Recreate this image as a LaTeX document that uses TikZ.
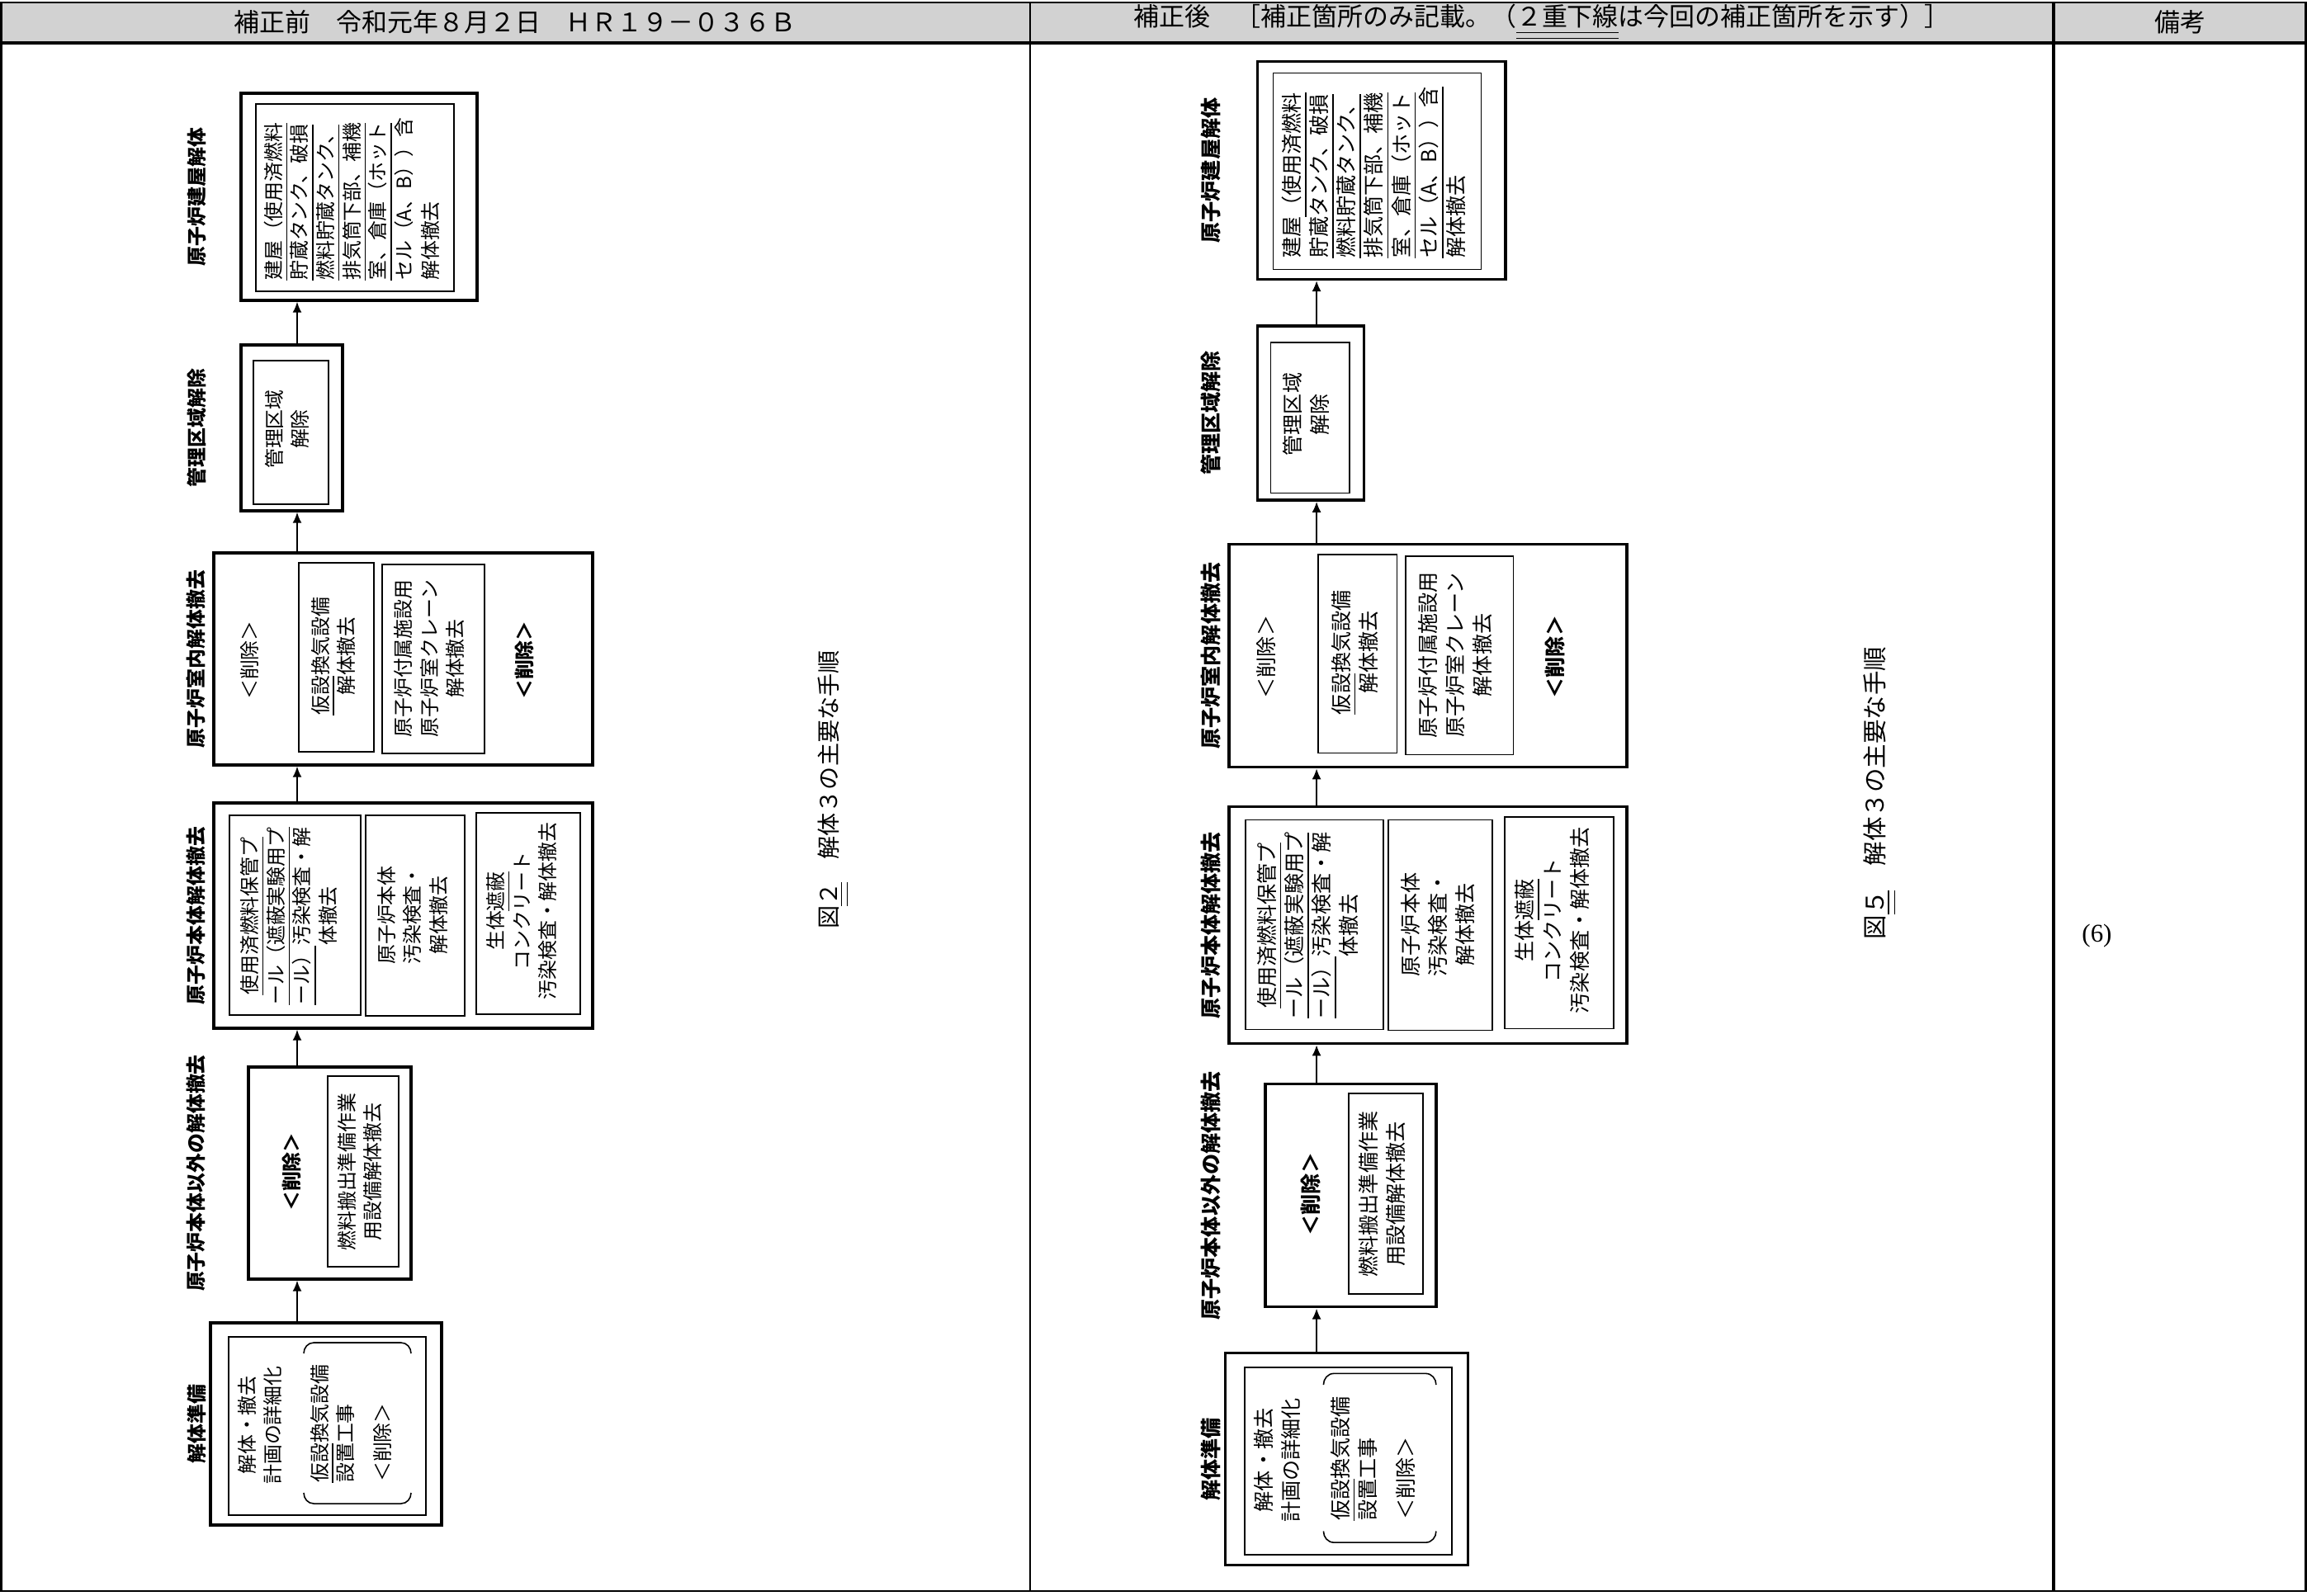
\documentclass[tikz,border=0pt]{standalone}
\usepackage{fontspec}
\setmainfont{Noto Sans CJK JP}
\newfontfamily\romanfont{Liberation Serif}
\usetikzlibrary{arrows.meta}

\newcommand{\dul}[1]{\underline{\underline{#1}}}% double underline

\tikzset{
  outerbox/.style={draw, line width=0.95pt, inner sep=0pt},
  innerbox/.style={draw, line width=0.45pt, inner sep=0pt},
  bracket/.style={line width=0.45pt},
  stage/.style={rotate=90, inner sep=0pt, font=\fontsize{6.8}{9}\selectfont\bfseries},
  boxtext/.style={rotate=90, inner sep=0pt, align=center, font=\fontsize{6.8}{9}\selectfont},
  boldtext/.style={boxtext, font=\fontsize{6.8}{9}\selectfont\bfseries},
  flow/.style={line width=0.55pt, -{Latex[length=1.3mm,width=1.1mm]}},
  tablerule/.style={line width=0.6pt},
  headtext/.style={font=\fontsize{8.8}{10}\selectfont},
}

% #1 name prefix, #2 figure number, #3 text of the reactor building box
\newcommand{\flowchart}[3]{%
  \coordinate (#1-fx) at (3.60,0);% the arrows run on this line
  \coordinate (#1-lx) at (2.38,0);% the stage titles sit on this line
  % dismantling preparation
  \node[outerbox, minimum width=2.80cm, minimum height=2.45cm] (#1-prep) at (3.95,-17.255) {};
  \node[innerbox, minimum width=2.39cm, minimum height=2.16cm] (#1-prepin) at (3.965,-17.28) {};
  \node[boxtext] (#1-prepa) at (3.15,-17.27) {解体・撤去\\計画の詳細化};
  \node[boxtext, align=left] (#1-prepb) at (4.03,-17.25) {\underline{仮設}換気設備\\設置工事};
  \node[boxtext] (#1-prepc) at (4.63,-17.48) {＜削除＞};
  \draw[bracket] (3.68,-16.40) to[out=90,in=180] (3.80,-16.27) -- (4.86,-16.27) to[out=0,in=90] (4.98,-16.40);
  \draw[bracket] (3.68,-18.09) to[out=-90,in=180] (3.80,-18.22) -- (4.86,-18.22) to[out=0,in=-90] (4.98,-18.09);
  \node[stage] (#1-tprep) at (#1-prep -| #1-lx) {解体準備};
  % everything but the reactor body
  \node[outerbox, minimum width=1.97cm, minimum height=2.57cm] (#1-other) at (3.995,-14.215) {};
  \node[innerbox, minimum width=0.86cm, minimum height=2.31cm] (#1-otherin) at (4.40,-14.195) {};
  \node[boldtext] (#1-otherdel) at (3.53,-14.20) {＜削除＞};
  \node[boxtext] (#1-othertxt) at (4.36,-14.20) {燃料搬出準備作業\\用設備解体撤去};
  \node[stage] (#1-tother) at (#1-other -| #1-lx) {原子炉本体以外の解体撤去};
  % reactor body
  \node[outerbox, minimum width=4.59cm, minimum height=2.73cm] (#1-body) at (4.885,-11.095) {};
  \node[innerbox, minimum width=1.59cm, minimum height=2.42cm] (#1-bodyc) at (3.575,-11.09) {};
  \node[innerbox, minimum width=1.20cm, minimum height=2.43cm] (#1-bodyd) at (5.03,-11.095) {};
  \node[innerbox, minimum width=1.26cm, minimum height=2.44cm] (#1-bodye) at (6.40,-11.07) {};
  \node[boxtext] (#1-bodyctxt) at (3.50,-11.10) {\underline{使用済燃料保管プ}\\\underline{ール（遮蔽実験用プ}\\\underline{ール）}汚染検査・解\\体撤去};
  \node[boxtext] (#1-bodydtxt) at (5.00,-11.09) {原子炉本体\\汚染検査・\\解体撤去};
  \node[boxtext] (#1-bodyetxt) at (6.32,-11.04) {生体\underline{遮蔽}\\コンクリート\\汚染検査・解体撤去};
  \node[stage] (#1-tbody) at (#1-body -| #1-lx) {原子炉本体解体撤去};
  % reactor room
  \node[outerbox, minimum width=4.59cm, minimum height=2.57cm] (#1-room) at (4.885,-7.985) {};
  \node[innerbox, minimum width=0.91cm, minimum height=2.29cm] (#1-rooma) at (4.075,-7.965) {};
  \node[innerbox, minimum width=1.24cm, minimum height=2.29cm] (#1-roomb) at (5.25,-7.985) {};
  \node[boxtext] (#1-roomdel) at (3.02,-8.00) {＜削除＞};
  \node[boxtext] (#1-roomatxt) at (4.04,-7.95) {\underline{仮設}換気設備\\解体撤去};
  \node[boxtext] (#1-roombtxt) at (5.20,-7.98) {原子炉付属施設用\\原子炉室クレーン\\解体撤去};
  \node[boldtext] (#1-roomdelb) at (6.35,-8.00) {＜削除＞};
  \node[stage] (#1-troom) at (#1-room -| #1-lx) {原子炉室内解体撤去};
  % controlled area
  \node[outerbox, minimum width=1.23cm, minimum height=2.01cm] (#1-ctrl) at (3.535,-5.185) {};
  \node[innerbox, minimum width=0.91cm, minimum height=1.74cm] (#1-ctrlin) at (3.525,-5.24) {};
  \node[boxtext] (#1-ctrltxt) at (3.48,-5.20) {管理区域\\解除};
  \node[stage] (#1-tctrl) at (#1-ctrl -| #1-lx) {管理区域解除};
  % reactor building
  \node[outerbox, minimum width=2.86cm, minimum height=2.51cm] (#1-bldg) at (4.35,-2.385) {};
  \node[innerbox, minimum width=2.40cm, minimum height=2.27cm] (#1-bldgin) at (4.30,-2.395) {};
  \node[boxtext, align=left] (#1-bldgtxt) at (4.26,-2.41) {#3};
  \node[stage] (#1-tbldg) at (#1-bldg -| #1-lx) {原子炉建屋解体};
  % steps
  \draw[flow] (#1-prep.north -| #1-fx) -- (#1-other.south -| #1-fx);
  \draw[flow] (#1-other.north -| #1-fx) -- (#1-body.south -| #1-fx);
  \draw[flow] (#1-body.north -| #1-fx) -- (#1-room.south -| #1-fx);
  \draw[flow] (#1-room.north -| #1-fx) -- (#1-ctrl.south -| #1-fx);
  \draw[flow] (#1-ctrl.north -| #1-fx) -- (#1-bldg.south -| #1-fx);
  \node[boxtext, font=\fontsize{8}{9}\selectfont] (#1-cap) at (10.10,-9.57) {図\dul{#2}　解体３の主要な手順};
}

\begin{document}
\begin{tikzpicture}
\useasboundingbox (0,0) rectangle (27.95,-19.33);
% table
\fill[gray!35] (0,-0.03) rectangle (27.95,-0.51);
\draw[tablerule] (0.015,-0.03) rectangle (27.935,-19.28);
\draw[line width=1.3pt] (0,-0.52) -- (27.95,-0.52);
\draw[tablerule] (12.48,-0.03) -- (12.48,-19.28);
\draw[line width=1.3pt] (24.88,-0.03) -- (24.88,-19.28);
\node[headtext] (hbefore) at (6.24,-0.27) {補正前　令和元年８月２日　ＨＲ１９－０３６Ｂ};
\node[headtext] (hafter) at (18.68,-0.27) {補正後　［補正箇所のみ記載。（\dul{２重下線}は今回の補正箇所を示す）］};
\node[headtext] (hnote) at (26.41,-0.27) {備考};
\node[anchor=west, font=\romanfont\fontsize{8.8}{10}\selectfont] (note) at (25.10,-11.34) {(6)};
% before the amendment
\flowchart{L}{２}{\underline{建屋（使用済燃料}\\\underline{貯蔵タンク、破損}\\\underline{燃料貯蔵タンク、}\\\underline{排気筒下部、補機}\\\underline{室、倉庫（ホット}\\セル（A、B））含\\解体撤去}
% after the amendment, same chart a little larger
\begin{scope}[shift={(12.17,0.44)}, scale=1.05, transform shape]
\flowchart{R}{５}{建屋\underline{（使用済燃料}\\\underline{貯蔵タンク、破損}\\\underline{燃料貯蔵タンク、}\\\underline{排気筒下部、補機}\\\underline{室、倉庫（ホット}\\\underline{セル（A、B））含}\\解体撤去}
\end{scope}
\end{tikzpicture}
\end{document}
